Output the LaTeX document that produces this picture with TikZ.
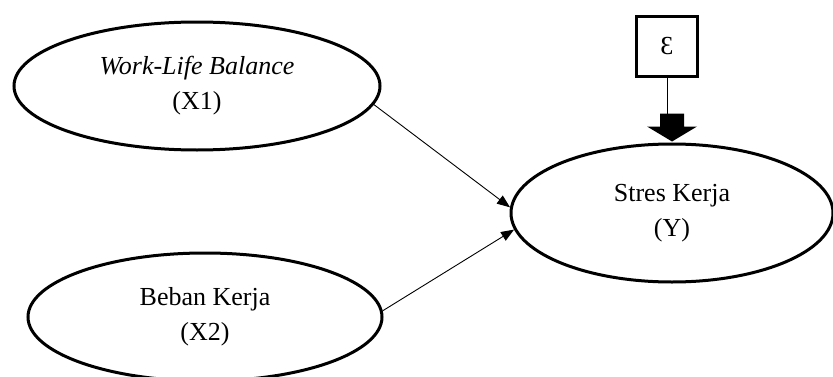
\documentclass[tikz,border=0pt]{standalone}
\usepackage{fontspec}
\setmainfont{Liberation Serif}
\usetikzlibrary{shapes.geometric,arrows.meta}
\tikzset{
  var/.style={ellipse, draw, line width=3pt, inner sep=0pt, align=center,
    font=\fontsize{26}{35}\selectfont},
  errbox/.style={rectangle, draw, line width=3pt, minimum width=61pt, minimum height=60pt,
    inner sep=0pt, font=\fontsize{26}{35}\selectfont},
  path/.style={line width=0.9pt, -{Triangle[length=13pt,width=10pt]}},
}
\begin{document}
\begin{tikzpicture}[x=1pt,y=1pt]
\useasboundingbox (0,0) rectangle (833,376);
\clip (0,0) rectangle (833,376);
\node[var, minimum width=366pt, minimum height=128pt] (X1) at (197,290)
  {\textit{Work-Life Balance}\\(X1)};
\node[var, minimum width=354pt, minimum height=128pt] (X2) at (205,59)
  {Beban Kerja\\(X2)};
\node[var, minimum width=322pt, minimum height=138pt] (Y) at (672,163)
  {Stres Kerja\\(Y)};
\node[errbox] (E) at (667,329.5) {Ɛ};
\draw[path] (X1.-6) -- (Y.178);
\draw[path] (X2.2) -- (Y.186);
\coordinate (T) at ([yshift=1pt]Y.north);
\coordinate (S) at ([yshift=28pt]T);
\draw[line width=0.9pt] (E.south) -- (E.south |- S);
\fill (T) -- ++(-25,15) -- ++(13,0) -- ++(0,13) -- ++(24,0) -- ++(0,-13) -- ++(13,0) -- cycle;
\end{tikzpicture}
\end{document}
